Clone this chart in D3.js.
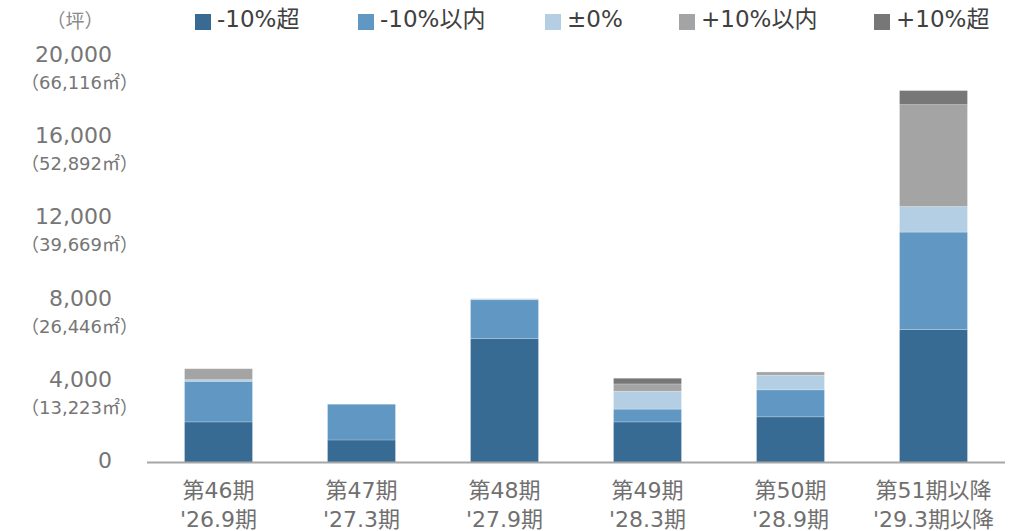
<!DOCTYPE html>
<html>
<head>
<meta charset="utf-8">
<script src="https://cdn.jsdelivr.net/npm/d3@7"></script>
<style>
  html, body { margin: 0; padding: 0; background: #fff; }
  svg { display: block; }
  text { font-family: "DejaVu Sans", "Noto Sans CJK JP", sans-serif; }
</style>
</head>
<body>
<svg id="chart" width="1014" height="531"></svg>
<script>
// Periods (two-line labels)
const periods = ["第46期", "第47期", "第48期", "第49期", "第50期", "第51期以降"];
const periodDates = ["'26.9期", "'27.3期", "'27.9期", "'28.3期", "'28.9期", "'29.3期以降"];

// Series names (rent gap bands) and values in tsubo
const seriesNames = ["-10%超", "-10%以内", "±0%", "+10%以内", "+10%超"];
const over10Down  = [2000, 1110, 6110, 2000, 2250, 6550];
const within10Down = [2000, 1760, 1910, 630, 1330, 4800];
const flat        = [80, 0, 50, 880, 720, 1260];
const within10Up  = [540, 0, 0, 360, 160, 5020];
const over10Up    = [0, 0, 0, 280, 0, 690];

// Y-axis ticks (tsubo) and their square-metre equivalents
const yTicks = [0, 4000, 8000, 12000, 16000, 20000];
const yTickSqm = ["", "（13,223㎡）", "（26,446㎡）", "（39,669㎡）", "（52,892㎡）", "（66,116㎡）"];

const colors = ["#386b94", "#6198c3", "#b4cfe3", "#a4a4a4", "#777777"];

const svg = d3.select("#chart");

const x = d3.scaleBand()
  .domain(periods)
  .range([147, 1005])
  .paddingInner(0.525)
  .paddingOuter(0.2625);

const y = d3.scaleLinear()
  .domain([0, 20000])
  .range([462.5, 56.5]);

// Stack the series
const rows = periods.map((p, i) => ({
  period: p,
  [seriesNames[0]]: over10Down[i],
  [seriesNames[1]]: within10Down[i],
  [seriesNames[2]]: flat[i],
  [seriesNames[3]]: within10Up[i],
  [seriesNames[4]]: over10Up[i]
}));
const stacked = d3.stack().keys(seriesNames)(rows);

svg.append("g")
  .selectAll("g")
  .data(stacked)
  .join("g")
  .attr("fill", (d, i) => colors[i])
  .selectAll("rect")
  .data(d => d)
  .join("rect")
  .attr("x", d => x(d.data.period))
  .attr("width", x.bandwidth())
  .attr("y", d => y(d[1]))
  .attr("height", d => Math.max(0, y(d[0]) - y(d[1])))
  .attr("stroke", "rgba(255,255,255,0.25)")
  .attr("stroke-width", 0.8);

// Baseline
svg.append("line")
  .attr("x1", 147).attr("x2", 1005)
  .attr("y1", y(0)).attr("y2", y(0))
  .attr("stroke", "#a6a6a6")
  .attr("stroke-width", 2);

// Y-axis labels
const yLab = svg.append("g").attr("fill", "#767676");
yTicks.forEach((t, i) => {
  const yy = y(t);
  yLab.append("text")
    .attr("x", 112)
    .attr("y", yy - 2)
    .attr("text-anchor", "end")
    .attr("dominant-baseline", "central")
    .attr("font-size", 22)
    .text(d3.format(",")(t));
  if (yTickSqm[i]) {
    yLab.append("text")
      .attr("x", 138)
      .attr("y", yy + 26)
      .attr("text-anchor", "end")
      .attr("dominant-baseline", "central")
      .attr("font-size", 18)
      .text(yTickSqm[i]);
  }
});

// Unit label
svg.append("text")
  .attr("x", 75).attr("y", 21)
  .attr("text-anchor", "middle")
  .attr("dominant-baseline", "central")
  .attr("font-size", 19)
  .attr("fill", "#8a8a8a")
  .text("（坪）");

// X-axis labels
const xLab = svg.append("g").attr("fill", "#707070").attr("font-size", 22).attr("text-anchor", "middle");
periods.forEach((p, i) => {
  const cx = x(p) + x.bandwidth() / 2;
  xLab.append("text").attr("x", cx).attr("y", 490).attr("dominant-baseline", "central").text(p);
  xLab.append("text").attr("x", cx).attr("y", 519).attr("dominant-baseline", "central").text(periodDates[i]);
});

// Legend
const legendX = [195, 358, 545, 679, 874];
const legend = svg.append("g");
seriesNames.forEach((name, i) => {
  legend.append("rect")
    .attr("x", legendX[i]).attr("y", 14)
    .attr("width", 16).attr("height", 16)
    .attr("fill", colors[i]);
  legend.append("text")
    .attr("x", legendX[i] + 22).attr("y", 19)
    .attr("dominant-baseline", "central")
    .attr("font-size", 23)
    .attr("fill", "#404040")
    .text(name);
});
</script>
</body>
</html>
